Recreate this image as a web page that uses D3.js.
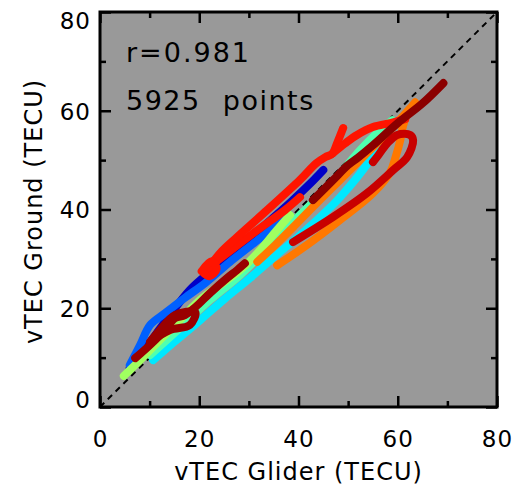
<!DOCTYPE html>
<html>
<head>
<meta charset="utf-8">
<script src="https://cdn.jsdelivr.net/npm/d3@7"></script>
<style>
  body { margin: 0; background: #fff; }
  text { font-family: "DejaVu Sans", sans-serif; fill: #000; }
</style>
</head>
<body>
<svg></svg>
<script>
const width = 514;
const height = 489;
const margin = { top: 12, right: 17, bottom: 82, left: 100 };

// axis ticks
const majorTicks = [0, 20, 40, 60, 80];
const minorTicks = [10, 30, 50, 70];

// tracks of [vTEC glider, vTEC ground], in time order
const darkBlue = [[6, 7.9], [10, 13], [14, 18.5], [18.1, 23.7], [22, 27.2], [26.2, 30.6], [30.3, 34.2], [34.3, 37.8], [38.3, 41.4], [42.9, 45.8], [45, 48]];
const blue = [[6, 8.5], [8.1, 12.6], [10.1, 16.6], [13.1, 19], [17.1, 22.1], [21.2, 25.1], [26.2, 29.4], [32.3, 34.2], [38.3, 38.9]];
const cyan = [[10.7, 9.5], [15, 13.2], [20.2, 17.6], [25, 21.8], [30.2, 26.1], [35, 30.3], [40.3, 34.8], [44.5, 38.6], [48.4, 42.5], [54.4, 50], [58.5, 57.1]];
const aqua = [[10.1, 10.5], [16.1, 16], [22.2, 21.7], [28.2, 26.7], [34.3, 32.8], [40.3, 38.9], [46.4, 44.9], [52.4, 52], [56.5, 56.1], [58.9, 58.1]];
const green = [[4.8, 6.3], [8.1, 9.5], [12.1, 13.6], [16.1, 17.6], [20.2, 21.7], [24.2, 24.7], [28.2, 27.7], [32.3, 31.8], [35.3, 35.4], [38.3, 38.9]];
const orangeA = [[31.7, 29.4], [35.3, 32.8], [39.3, 36.8], [43.3, 40.9], [48.4, 46], [53.4, 51], [58.5, 56.1], [62.5, 60.5]];
const orangeB = [[35.7, 28.7], [41.7, 32.8], [48.4, 37.9], [55, 43.3], [58.5, 47.6], [59.5, 50.4], [60.5, 54], [61.1, 57.1], [62.1, 59.7], [63.5, 61.7]];
const redA = [[21.8, 28.1], [24.5, 31.5], [27.6, 34.4], [33.7, 39.9], [40.3, 46], [43.5, 49.3], [45.4, 50.6], [46.8, 51.3], [47.8, 53.5], [49, 56.5]];
const redB = [[46.8, 51.3], [49.4, 53.4], [51.8, 55.1], [55, 56.7], [58.5, 57.5], [61.5, 58.3]];
const redC = [[21.2, 27.7], [26.2, 31.6], [31.7, 35.8], [37.3, 39.9], [40.3, 42.5]];
const redBlob = [[20.5, 27.5], [22.5, 29.5], [23.5, 28], [22, 26.5], [20.5, 27.5]];
const darkRed = [[38.9, 33.4], [47, 38.5], [53.8, 43.3], [59.1, 48], [61.9, 50.6], [63.1, 54], [62.5, 55.1], [59.9, 55.1], [57.9, 53.4], [55.8, 50.6], [55, 49.6]];
const maroonLow = [[7.1, 9.9], [10.1, 12.6], [13.1, 15.6], [15.1, 18], [17.1, 18.6], [19.2, 20.2], [22.2, 23.1], [25.6, 26.1], [27.6, 27.7], [29.2, 29.1]];
const maroonBlob = [[10.1, 13.2], [12.1, 15.6], [15.1, 18.6], [19.2, 19.2], [18.1, 16.6], [14.1, 15.6], [10.1, 13.2]];
const maroonHigh = [[42.9, 41.9], [47, 46], [50, 49], [52, 50.5], [55, 53], [60, 57.5], [65, 61.5], [69.2, 65.6]];

const tracks = [
  { data: darkBlue, color: "#0000c8" },
  { data: blue, color: "#0060ff" },
  { data: cyan, color: "#00e8ff" },
  { data: aqua, color: "#50ffb0" },
  { data: green, color: "#a0ff60" },
  { data: orangeA, color: "#ff7800" },
  { data: orangeB, color: "#ff7800" },
  { data: redC, color: "#ff1400" },
  { data: redA, color: "#ff1400" },
  { data: redB, color: "#ff1400" },
  { data: redBlob, color: "#ff1400" },
  { data: darkRed, color: "#c80000" },
  { data: maroonBlob, color: "#9a0000" },
  { data: maroonLow, color: "#9a0000" },
  { data: maroonHigh, color: "#8b0000" },
];

const svg = d3.select("svg").attr("width", width).attr("height", height);

const x = d3.scaleLinear().domain([0, 80]).range([margin.left, width - margin.right]);
const y = d3.scaleLinear().domain([0, 80]).range([height - margin.bottom, margin.top]);

// Plot background
svg.append("rect")
  .attr("x", x(0)).attr("y", y(80))
  .attr("width", x(80) - x(0)).attr("height", y(0) - y(80))
  .attr("fill", "#999999");

svg.append("clipPath").attr("id", "clip")
  .append("rect")
  .attr("x", x(0)).attr("y", y(80))
  .attr("width", x(80) - x(0)).attr("height", y(0) - y(80));

// 1:1 line
svg.append("line")
  .attr("x1", x(0)).attr("y1", y(0))
  .attr("x2", x(80)).attr("y2", y(80))
  .attr("stroke", "#000")
  .attr("stroke-width", 2)
  .attr("stroke-dasharray", "6,5");

// Tracks
const line = d3.line()
  .x((d) => x(d[0]))
  .y((d) => y(d[1]))
  .curve(d3.curveCatmullRom);

svg.append("g")
  .attr("clip-path", "url(#clip)")
  .selectAll("path")
  .data(tracks)
  .join("path")
  .attr("d", (d) => line(d.data))
  .attr("fill", "none")
  .attr("stroke", (d) => d.color)
  .attr("stroke-width", 8)
  .attr("stroke-linecap", "round")
  .attr("stroke-linejoin", "round");

// Axes with inward ticks on all four sides
const tickStyle = (g) => {
  g.select(".domain").remove();
  g.selectAll(".tick line").attr("stroke", "#000").attr("stroke-width", 2.5);
};

const addAxis = (axisFn, scale, transform, labels) => {
  const major = svg.append("g")
    .attr("transform", transform)
    .call(axisFn(scale).tickValues(majorTicks).tickSize(-11).tickPadding(labels ? 21 : 0).tickFormat(labels ? d3.format("d") : ""))
    .call(tickStyle);
  svg.append("g")
    .attr("transform", transform)
    .call(axisFn(scale).tickValues(minorTicks).tickSize(-6).tickFormat(""))
    .call(tickStyle);
  return major;
};

const xAxis = addAxis(d3.axisBottom, x, `translate(0,${y(0)})`, true);
xAxis.selectAll(".tick text")
  .attr("font-size", 23).attr("letter-spacing", 1)
  .attr("font-family", "DejaVu Sans").attr("y", 40).attr("dy", 0);

const yAxis = addAxis(d3.axisLeft, y, `translate(${x(0)},0)`, true);
yAxis.selectAll(".tick text")
  .attr("font-size", 23).attr("letter-spacing", 1)
  .attr("font-family", "DejaVu Sans").attr("x", -9)
  .attr("dy", (d) => (d === 80 ? "0.73em" : d === 0 ? "0em" : "0.36em"));

addAxis(d3.axisTop, x, `translate(0,${y(80)})`, false);
addAxis(d3.axisRight, y, `translate(${x(80)},0)`, false);

// Frame
svg.append("rect")
  .attr("x", x(0)).attr("y", y(80))
  .attr("width", x(80) - x(0)).attr("height", y(0) - y(80))
  .attr("fill", "none")
  .attr("stroke", "#000")
  .attr("stroke-width", 3);

// Axis titles
svg.append("text")
  .attr("x", (x(0) + x(80)) / 2)
  .attr("y", 480)
  .attr("text-anchor", "middle")
  .style("font-size", "24px")
  .style("letter-spacing", "1px")
  .text("vTEC Glider (TECU)");

svg.append("text")
  .attr("transform", `translate(42,${(y(0) + y(80)) / 2 + 2}) rotate(-90)`)
  .attr("text-anchor", "middle")
  .style("font-size", "24px")
  .style("letter-spacing", "1px")
  .text("vTEC Ground (TECU)");

// Annotations
svg.append("text")
  .attr("x", 126).attr("y", 62)
  .style("font-size", "27px")
  .style("letter-spacing", "2px")
  .text("r=0.981");

svg.append("text")
  .attr("x", 126).attr("y", 110)
  .style("font-size", "27px")
  .style("letter-spacing", "1.5px")
  .style("word-spacing", "12px")
  .text("5925 points");
</script>
</body>
</html>
